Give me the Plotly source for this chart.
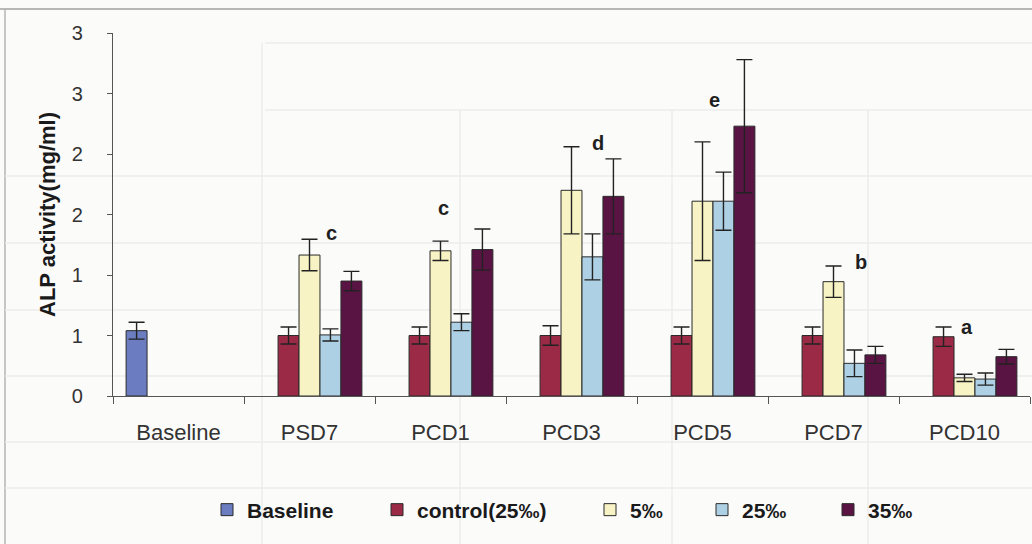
import plotly.graph_objects as go

categories = ["Baseline", "PSD7", "PCD1", "PCD3", "PCD5", "PCD7", "PCD10"]
series_names = ["Baseline", "control(25‰)", "5‰", "25‰", "35‰"]
baseline_vals = [0.54, None, None, None, None, None, None]
baseline_err = [0.07, None, None, None, None, None, None]
control_vals = [None, 0.50, 0.50, 0.50, 0.50, 0.50, 0.49]
control_err = [None, 0.07, 0.07, 0.08, 0.07, 0.07, 0.08]
s5_vals = [None, 1.165, 1.20, 1.70, 1.61, 0.945, 0.15]
s5_err = [None, 0.13, 0.08, 0.36, 0.49, 0.13, 0.03]
s25_vals = [None, 0.505, 0.61, 1.15, 1.61, 0.27, 0.14]
s25_err = [None, 0.05, 0.07, 0.19, 0.24, 0.11, 0.05]
s35_vals = [None, 0.95, 1.21, 1.65, 2.23, 0.34, 0.325]
s35_err = [None, 0.08, 0.17, 0.31, 0.55, 0.07, 0.06]
colors = ["#6b7cc0", "#9a2a45", "#f8f3c4", "#aed0e4", "#5a1444"]

tick_vals = [0, 0.5, 1, 1.5, 2, 2.5, 3]
tick_text = ["0", "1", "1", "2", "2", "3", "3"]

letters = [("PSD7", "c", 22, 1.35), ("PCD1", "c", 3, 1.55), ("PCD3", "d", 26, 2.09),
           ("PCD5", "e", 12, 2.45), ("PCD7", "b", 27, 1.11), ("PCD10", "a", 2, 0.57)]

legend_text_px = [247, 417, 630, 742, 868]

all_vals = [baseline_vals, control_vals, s5_vals, s25_vals, s35_vals]
all_err = [baseline_err, control_err, s5_err, s25_err, s35_err]

FONT = "Liberation Sans, Arial"
fig = go.Figure()
L, R, T, B = 113, 2, 33, 148
W, H = 1032, 544
pw = W - L - R
ph = H - T - B
for i, (name, vals, err, col) in enumerate(zip(series_names, all_vals, all_err, colors)):
    lg = "legend" if i == 0 else f"legend{i+1}"
    fig.add_trace(go.Bar(
        x=categories, y=vals, name=name, legend=lg, showlegend=True,
        marker=dict(color=col, line=dict(color="#2a2a2a", width=1)),
        error_y=dict(type="data", array=err, visible=True, color="#222222", thickness=1.4, width=8),
    ))
    legend_def = dict(
        x=(legend_text_px[i] - 40 - L) / pw, xanchor="left", xref="paper",
        y=(H - B - 510) / ph, yanchor="middle", yref="paper",
        orientation="h", bgcolor="rgba(0,0,0,0)", borderwidth=0,
        font=dict(family=FONT, size=21, color="#1a1a1a", weight="bold"),
        itemclick=False, itemdoubleclick=False,
    )
    fig.update_layout(**{lg: legend_def})

for cat, txt, xs, yv in letters:
    fig.add_annotation(x=cat, y=yv, text=f"<b>{txt}</b>", showarrow=False, xshift=xs,
                       font=dict(family=FONT, size=20, color="#1f1f1f"))

# faint background table lines (scanned page)
shapes = []
def line(x0, y0, x1, y1, col, w=1):
    shapes.append(dict(type="line", xref="paper", yref="paper", x0=(x0 - L) / pw, x1=(x1 - L) / pw,
                       y0=(H - B - y0) / ph, y1=(H - B - y1) / ph,
                       line=dict(color=col, width=w), layer="below"))
line(0, 9, 1032, 9, "#a0a0a0", 1.5)
line(5, 9, 5, 544, "#b5b5b5", 1.5)
for yy in [43, 110, 176, 243, 310, 376, 442, 488]:
    line(265 if yy < 176 else 5, yy, 1032, yy, "#ececec", 1.5)
for xx in [262, 460, 672, 868]:
    line(xx, 43 if xx == 262 else 110, xx, 544, "#ececec", 1.5)

fig.update_layout(
    width=W, height=H,
    margin=dict(l=L, r=R, t=T, b=B),
    paper_bgcolor="#fbfbfa", plot_bgcolor="rgba(0,0,0,0)",
    showlegend=True,
    barmode="group", bargap=0.2, bargroupgap=0,
    shapes=shapes,
    font=dict(family=FONT, color="#333333"),
    xaxis=dict(showgrid=False, showline=True, linecolor="#555555", linewidth=1.2,
               ticks="outside", tickson="boundaries", ticklen=7, tickcolor="#555555",
               ticklabelstandoff=16,
               tickfont=dict(size=22, color="#333333"), range=[-0.5, 6.5], automargin=False),
    yaxis=dict(range=[0, 3], showgrid=False, showline=True, linecolor="#555555", linewidth=1.2,
               tickvals=tick_vals, ticktext=tick_text, ticks="outside", ticklen=5,
               ticklabelstandoff=20, automargin=False,
               tickcolor="#555555", tickfont=dict(size=20, color="#333333"),
               title=dict(text="<b>ALP activity(mg/ml)</b>", standoff=10,
                          font=dict(size=22, color="#1a1a1a")), zeroline=False),
)

fig.write_html("out.html", config={"displayModeBar": False},
               post_script="document.body.style.margin='0';")
